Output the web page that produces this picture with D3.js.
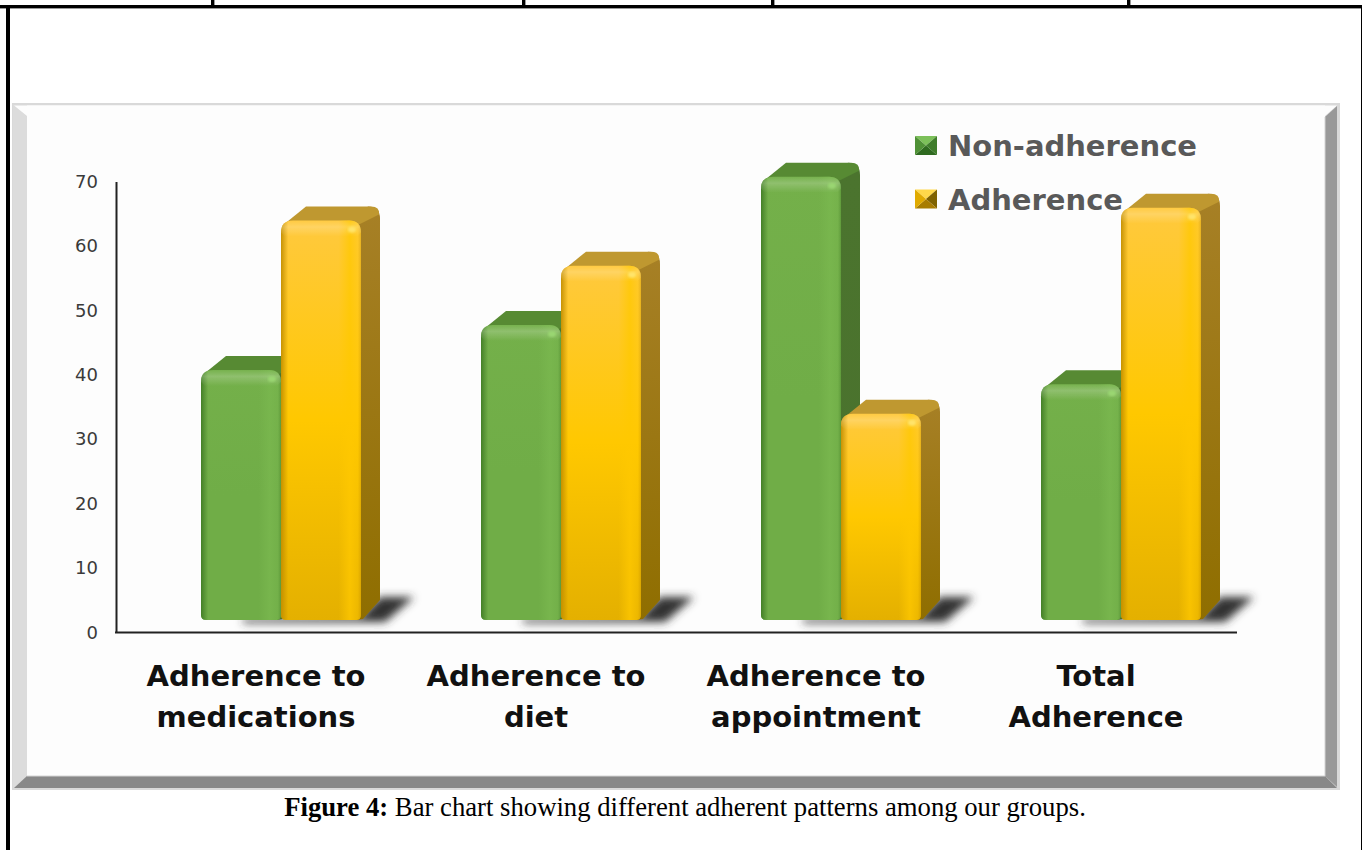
<!DOCTYPE html>
<html>
<head>
<meta charset="utf-8">
<script src="https://d3js.org/d3.v7.min.js"></script>
<style>
  html, body { margin: 0; padding: 0; background: #fff; overflow: hidden; }
  svg { display: block; }
</style>
</head>
<body>
<svg id="page" width="1362" height="850"></svg>
<script>
  var categories = [["Adherence to", "medications"], ["Adherence to", "diet"], ["Adherence to", "appointment"], ["Total", "Adherence"]];
  var seriesNames = ["Non-adherence", "Adherence"];
  var nonAdherence = [38.8, 45.8, 68.8, 36.6];
  var adherence = [62, 55, 32, 64];
  var yTicks = [0, 10, 20, 30, 40, 50, 60, 70];
  var tableColumns = [213, 524, 773, 1129];

  var palette = [
    {front: ["#74b04a", "#70ad47", "#70ad47"], side: ["#4b742e", "#4a722d"], cap: "#578a33", edge: "#3f7a24", shine: "#7ab84f", spot: "#9ad672",
     legend: ["#7cc05a", "#3f7d2b", "#2f6a20", "#4f9136"]},
    {front: ["#ffc93e", "#ffc800", "#e4b000"], side: ["#a78026", "#8f6e00"], cap: "#bf9830", edge: "#c08c00", shine: "#ffc800", spot: "#ffe46a",
     legend: ["#ffd84a", "#7f6200", "#a87c00", "#e0aa00"]}
  ];

  var svg = d3.select("#page");
  var defs = svg.append("defs");

  defs.append("filter").attr("id", "soft")
    .attr("x", "-20%").attr("y", "-60%").attr("width", "140%").attr("height", "220%")
    .append("feGaussianBlur").attr("stdDeviation", 4.5);

  defs.append("filter").attr("id", "softer")
    .append("feGaussianBlur").attr("stdDeviation", 1.2);

  function linear(id, horizontal, stops) {
    var g = defs.append("linearGradient").attr("id", id)
      .attr("x1", 0).attr("y1", 0)
      .attr("x2", horizontal ? 1 : 0).attr("y2", horizontal ? 0 : 1);
    stops.forEach(function(s) {
      g.append("stop").attr("offset", s[0]).attr("stop-color", s[1]).attr("stop-opacity", s[2] === undefined ? 1 : s[2]);
    });
  }

  palette.forEach(function(p, i) {
    linear("front" + i, false, [[0, p.front[0]], [0.5, p.front[1]], [1, p.front[2]]]);
    linear("side" + i, false, [[0, p.side[0]], [1, p.side[1]]]);
    // soft dark left edge and a broad highlight towards the right of each bar
    linear("rim" + i, true, [[0, p.edge, 0.9], [0.09, p.edge, 0], [0.72, p.shine, 0], [0.86, p.shine, 0.75], [0.96, p.shine, 0.3], [1, p.edge, 0.4]]);
    linear("bevel" + i, false, [[0, "#fff", 0.02], [0.4, "#fff", 0.2], [1, "#fff", 0]]);
  });

  // page table rules
  var rules = svg.append("g").attr("fill", "#000");
  rules.append("rect").attr("x", 0).attr("y", 5).attr("width", 1362).attr("height", 3.4);
  rules.append("rect").attr("x", 6).attr("y", 5).attr("width", 4).attr("height", 845);
  rules.append("rect").attr("x", 1361).attr("y", 5).attr("width", 1).attr("height", 845);
  rules.selectAll(".col").data(tableColumns).enter().append("rect")
    .attr("class", "col")
    .attr("x", function(d) { return d - 2; })
    .attr("y", 0).attr("width", 3.4).attr("height", 6);

  // bevelled picture frame
  var frame = svg.append("g");
  var L = 13, T = 104, R = 1339, B = 789, bl = 14, br = 14, bb = 13, bt = 1.5;
  frame.append("rect").attr("x", L - 1).attr("y", T - 1).attr("width", R - L + 2).attr("height", B - T + 2).attr("fill", "#d9d9d9");
  frame.append("rect").attr("x", L + bl).attr("y", T + bt).attr("width", R - L - bl - br).attr("height", B - T - bt - bb).attr("fill", "#fdfdfd");
  frame.append("polygon").attr("fill", "#dcdcdc")
    .attr("points", [[L, T], [L + bl, T + 12], [L + bl, B - bb], [L, B]].join(" "));
  frame.append("polygon").attr("fill", "#fdfdfd")
    .attr("points", [[L + 1, T + 1.5], [R - 2, T + 1.5], [R - br, T + 12], [L + bl, T + 12]].join(" "));
  frame.append("polygon").attr("fill", "#999")
    .attr("points", [[R - 2, T + 2], [R - 2, B - 2], [R - br, B - bb], [R - br, T + 13]].join(" "));
  frame.append("polygon").attr("fill", "#888")
    .attr("points", [[L + 1, B - 1], [R - 2, B - 1], [R - br, B - bb], [L + bl, B - bb]].join(" "));
  frame.append("line").attr("x1", L + bl).attr("x2", R - br).attr("y1", B - bb).attr("y2", B - bb).attr("stroke", "#d4d4d4");
  frame.append("line").attr("x1", R - br).attr("x2", R - br).attr("y1", T + 13).attr("y2", B - bb).attr("stroke", "#d4d4d4");

  // scales
  var x0 = d3.scaleBand().domain(d3.range(categories.length)).range([116, 1236]);
  var barOffset = 25, barW = 80;
  var y = d3.scaleLinear().domain([0, 70]).range([632.5, 181.5]);
  var lift = 12.5, dx = 19, dyTop = 14, dyBase = 20;

  function barX(g, s) {
    return x0(g) + x0.bandwidth() / 2 + barOffset - barW + s * barW;
  }

  function frontPath(x, top, base) {
    var r = 12, r2 = 5, w = barW;
    return "M" + x + "," + (base - r2) +
      "V" + (top + r) + "Q" + x + "," + top + " " + (x + r) + "," + top +
      "H" + (x + w - r) + "Q" + (x + w) + "," + top + " " + (x + w) + "," + (top + r) +
      "V" + (base - r2) + "Q" + (x + w) + "," + base + " " + (x + w - r2) + "," + base +
      "H" + (x + r2) + "Q" + x + "," + base + " " + x + "," + (base - r2) + "Z";
  }

  var plot = svg.append("g");

  // axes
  var axisL = d3.axisLeft(y).tickValues(yTicks).tickSize(0).tickPadding(18);
  var gy = plot.append("g").attr("transform", "translate(116,0)").call(axisL);
  gy.select(".domain").attr("stroke", "#222").attr("stroke-width", 2);
  gy.selectAll("text")
    .attr("font-family", "'DejaVu Sans'").attr("font-size", 18).attr("fill", "#3a3a3a");

  plot.append("line").attr("x1", 115).attr("x2", 1237)
    .attr("y1", y(0)).attr("y2", y(0)).attr("stroke", "#222").attr("stroke-width", 2);

  var axisB = d3.axisBottom(x0).tickSize(0).tickFormat("");
  plot.append("g").attr("transform", "translate(0," + y(0) + ")").call(axisB).select(".domain").remove();

  var labels = plot.selectAll(".cat").data(categories).enter().append("text")
    .attr("class", "cat")
    .attr("text-anchor", "middle")
    .attr("font-family", "'DejaVu Sans'").attr("font-weight", "bold")
    .attr("font-size", 29).attr("fill", "#111");
  labels.selectAll("tspan").data(function(d, i) {
    return d.map(function(t) { return {t: t, g: i}; });
  }).enter().append("tspan")
    .attr("x", function(d) { return x0(d.g) + x0.bandwidth() / 2; })
    .attr("y", function(d, i) { return 686 + i * 41; })
    .text(function(d) { return d.t; });

  // legend
  var legend = svg.append("g").selectAll("g").data(seriesNames).enter().append("g")
    .attr("transform", function(d, i) { return "translate(915," + (136 + i * 53.5) + ")"; });
  legend.each(function(d, i) {
    var g = d3.select(this), c = palette[i].legend, w = 22, h = 19;
    var mid = [w / 2, h / 2];
    var faces = [
      [[0, 0], [w, 0], mid],
      [[w, 0], [w, h], mid],
      [[0, h], [w, h], mid],
      [[0, 0], [0, h], mid]
    ];
    g.selectAll("polygon").data(faces).enter().append("polygon")
      .attr("points", function(f) { return f.join(" "); })
      .attr("fill", function(f, j) { return c[j]; });
  });
  legend.append("text")
    .attr("x", 33).attr("y", 20)
    .attr("font-family", "'DejaVu Sans'").attr("font-weight", "bold")
    .attr("font-size", 29).attr("fill", "#595959")
    .text(function(d) { return d; });

  // one group of two 3D bars per category
  var groups = plot.selectAll(".group").data(categories).enter().append("g").attr("class", "group");

  groups.each(function(d, g) {
    var grp = d3.select(this);
    var baseY = y(0) - lift;
    var right = barX(g, 2);

    // cast shadow on the floor
    grp.append("polygon")
      .attr("points", [[barX(g, 1) - 38, baseY - 1], [right, baseY - 4], [right + dx, baseY - dyBase - 3], [right + dx + 34, baseY - dyBase - 3], [right + 24, baseY + 2], [barX(g, 1) - 38, baseY + 3]].join(" "))
      .attr("fill", "#333").attr("filter", "url(#soft)");

    [nonAdherence, adherence].forEach(function(series, s) {
      var x = barX(g, s), top = y(series[g]) - lift, p = palette[s];

      grp.append("path").attr("fill", "url(#side" + s + ")")
        .attr("d", "M" + (x + barW - 10) + "," + (top + 4) +
          "L" + (x + barW + dx - 12) + "," + (top - dyTop) +
          "Q" + (x + barW + dx) + "," + (top - dyTop) + " " + (x + barW + dx) + "," + (top - dyTop + 12) +
          "V" + (baseY - dyBase) + "L" + (x + barW + 2) + "," + (baseY - 1) + "L" + (x + barW - 4) + "," + baseY + "Z");

      grp.append("path").attr("fill", p.cap)
        .attr("d", "M" + (x + 4) + "," + (top + 3) +
          "L" + (x + dx + 6) + "," + (top - dyTop) +
          "H" + (x + barW + dx - 9) +
          "Q" + (x + barW + dx) + "," + (top - dyTop) + " " + (x + barW + dx - 1) + "," + (top - dyTop + 8) +
          "L" + (x + barW - 4) + "," + (top + 5) + "Z");

      var shape = frontPath(x, top, baseY);
      grp.append("path").attr("d", shape).attr("fill", "url(#front" + s + ")");
      grp.append("path").attr("d", shape).attr("fill", "url(#rim" + s + ")");

      // rounded bevel along the top edge, with its specular spot
      grp.append("path").attr("fill", "url(#bevel" + s + ")")
        .attr("d", "M" + x + "," + (top + 12) + "Q" + x + "," + top + " " + (x + 12) + "," + top +
          "H" + (x + barW - 12) + "Q" + (x + barW) + "," + top + " " + (x + barW) + "," + (top + 12) +
          "L" + (x + barW - 4) + "," + (top + 16) + "H" + (x + 4) + "Z");
      grp.append("ellipse").attr("cx", x + barW - 9).attr("cy", top + 9).attr("rx", 4).attr("ry", 3)
        .attr("fill", p.spot).attr("filter", "url(#softer)");
    });
  });

  // caption below the frame
  var caption = svg.append("text")
    .attr("x", 685).attr("y", 816).attr("text-anchor", "middle")
    .attr("font-family", "'Liberation Serif'").attr("font-size", 26.7).attr("fill", "#000");
  caption.append("tspan").attr("font-weight", "bold").text("Figure 4:");
  caption.append("tspan").text(" Bar chart showing different adherent patterns among our groups.");
</script>
</body>
</html>
